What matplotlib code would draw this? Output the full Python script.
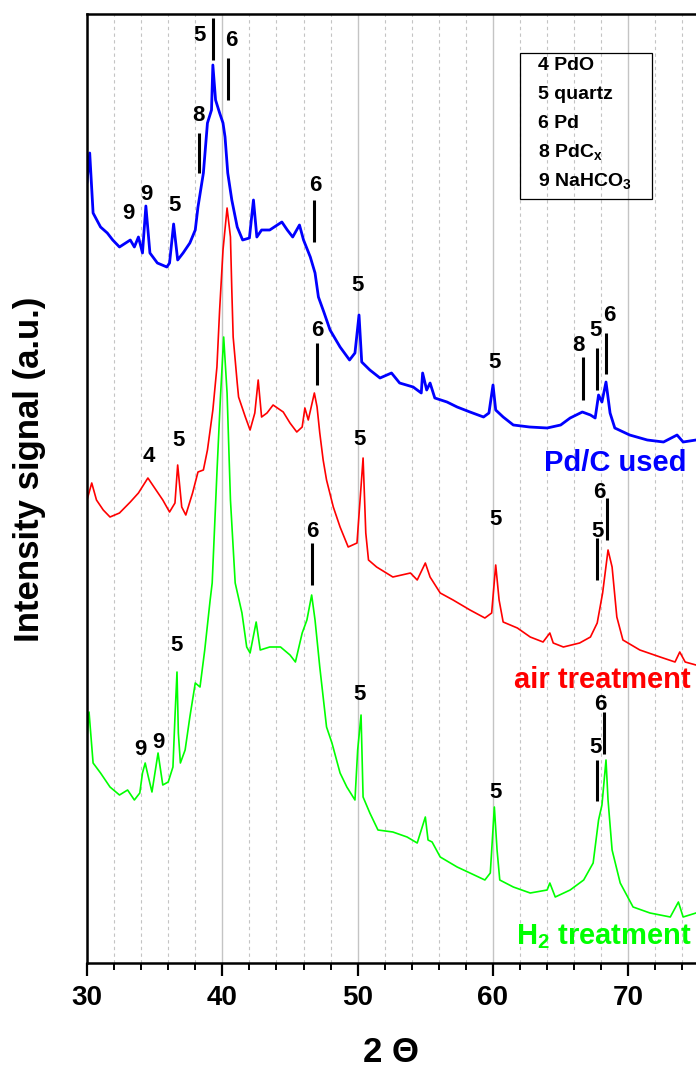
import matplotlib
matplotlib.use("Agg")
from matplotlib import pyplot as plt
from matplotlib.ticker import MultipleLocator
from matplotlib.patches import Rectangle

plt.rcParams['font.family'] = ['Liberation Sans', 'DejaVu Sans']
plt.rcParams['font.weight'] = 'bold'
plt.rcParams['mathtext.fontset'] = 'custom'
plt.rcParams['mathtext.rm'] = 'Liberation Sans:bold'
plt.rcParams['mathtext.bf'] = 'Liberation Sans:bold'
plt.rcParams['mathtext.default'] = 'bf'

# XRD traces (2theta, intensity in a.u. incl. offset)
blue_x = [30.0, 30.2, 30.45, 31.0, 31.5, 31.9, 32.4, 33.2, 33.5, 33.8,
          34.1, 34.35, 34.65, 35.2, 35.9, 36.1, 36.4, 36.7, 37.1, 37.6,
          38.0, 38.2, 38.6, 38.9, 39.2, 39.3, 39.5, 39.8, 40.05, 40.2,
          40.4, 40.7, 41.1, 41.5, 42.0, 42.3, 42.55, 42.9, 43.5, 44.4,
          44.8, 45.2, 45.7, 46.0, 46.5, 46.85, 47.1, 47.5, 47.96, 48.7,
          49.4, 49.8, 50.1, 50.3, 50.9, 51.65, 52.5, 53.1, 54.1, 54.7,
          54.8, 55.1, 55.35, 55.7, 56.6, 57.35, 58.3, 59.3, 59.7, 60.0,
          60.2, 60.75, 61.5, 62.7, 64.0, 65.0, 65.7, 66.6, 67.2, 67.55,
          67.8, 68.05, 68.35, 68.65, 69.0, 70.1, 71.4, 72.6, 73.6, 74.05,
          75.0]
blue_y = [781, 810, 750, 736, 730, 723, 716, 723, 716, 726,
          710, 757, 710, 700, 696, 700, 739, 703, 710, 720,
          733, 756, 790, 840, 853, 898, 863, 850, 840, 826,
          790, 763, 736, 723, 725, 763, 726, 733, 733, 741,
          733, 726, 738, 723, 706, 690, 666, 651, 633, 616,
          603, 610, 648, 601, 593, 585, 590, 580, 576, 570,
          590, 573, 580, 565, 561, 556, 551, 546, 550, 578,
          553, 546, 538, 536, 535, 538, 545, 551, 548, 545,
          568, 561, 581, 550, 535, 528, 523, 521, 528, 521,
          523]

red_x = [30.0, 30.35, 30.7, 31.2, 31.7, 32.4, 33.2, 33.8, 34.5, 35.2,
         35.6, 36.1, 36.5, 36.7, 37.0, 37.3, 37.8, 38.2, 38.6, 38.9,
         39.3, 39.6, 39.8, 40.05, 40.35, 40.6, 40.7, 40.8, 41.1, 41.2,
         41.7, 42.05, 42.4, 42.65, 42.9, 43.3, 43.75, 44.5, 45.0, 45.5,
         45.9, 46.1, 46.35, 46.8, 47.0, 47.2, 47.45, 47.7, 48.2, 48.7,
         49.3, 49.95, 50.4, 50.6, 50.8, 51.4, 52.6, 53.9, 54.4, 55.0,
         55.35, 56.1, 57.05, 58.3, 59.4, 59.9, 60.2, 60.45, 60.75, 61.8,
         62.75, 63.7, 64.2, 64.45, 65.2, 66.4, 67.2, 67.7, 68.1, 68.5,
         68.8, 69.15, 69.6, 70.85, 72.35, 73.45, 73.8, 74.2, 75.0]
red_y = [463, 480, 463, 453, 446, 450, 461, 470, 485, 471,
         463, 451, 460, 498, 456, 448, 470, 491, 493, 513,
         553, 596, 653, 713, 755, 726, 673, 626, 580, 566,
         546, 533, 550, 583, 546, 550, 558, 551, 540, 531,
         536, 555, 543, 570, 556, 530, 503, 483, 456, 436,
         416, 420, 505, 430, 403, 396, 386, 390, 383, 400,
         386, 370, 363, 353, 345, 350, 398, 363, 341, 335,
         326, 321, 330, 320, 316, 320, 326, 340, 370, 413,
         396, 346, 323, 313, 306, 301, 311, 301, 298]

green_x = [30.0, 30.15, 30.45, 31.0, 31.7, 32.4, 33.0, 33.5, 33.9, 34.1,
           34.3, 34.5, 34.8, 35.25, 35.6, 36.0, 36.35, 36.5, 36.65, 36.75,
           36.9, 37.25, 37.6, 38.0, 38.35, 38.7, 39.1, 39.25, 39.6, 39.85,
           40.1, 40.35, 40.6, 40.95, 41.45, 41.8, 42.05, 42.5, 42.8, 43.5,
           44.3, 45.0, 45.4, 45.9, 46.25, 46.6, 46.85, 47.2, 47.7, 48.1,
           48.7, 49.2, 49.8, 50.0, 50.25, 50.4, 50.9, 51.5, 52.6, 53.65,
           54.4, 55.0, 55.2, 55.5, 56.1, 57.35, 58.3, 59.4, 59.8, 60.1,
           60.3, 60.5, 61.5, 62.75, 64.0, 64.2, 64.6, 65.7, 66.7, 67.4,
           67.8, 68.05, 68.35, 68.5, 68.8, 69.4, 70.35, 71.6, 73.1, 73.7,
           74.05, 75.0]
green_y = [226, 251, 200, 190, 176, 168, 173, 163, 170, 190,
           200, 188, 171, 210, 178, 181, 196, 246, 291, 230,
           200, 213, 246, 280, 276, 313, 363, 380, 490, 563,
           626, 570, 463, 380, 350, 316, 310, 341, 313, 316,
           316, 308, 301, 330, 343, 368, 343, 296, 236, 220,
           190, 176, 163, 213, 248, 166, 150, 133, 131, 126,
           120, 146, 123, 121, 106, 96, 90, 83, 90, 156,
           113, 83, 76, 70, 73, 80, 66, 73, 83, 100,
           143, 158, 203, 163, 113, 80, 56, 50, 46, 61,
           46, 50]

# peak assignments: (label, 2theta, y)
blue_marks = [("9", 33.03, 752), ("9", 34.36, 771), ("5", 36.43, 760),
              ("8", 38.2, 850), ("5", 38.35, 930), ("6", 40.64, 925),
              ("6", 46.85, 780), ("5", 49.96, 680), ("5", 60.08, 603),
              ("8", 66.29, 620), ("5", 67.55, 635), ("6", 68.58, 650)]
red_marks = [("4", 34.58, 509), ("5", 36.73, 525), ("6", 47.0, 635),
             ("5", 50.1, 526), ("5", 60.15, 446), ("6", 67.84, 473),
             ("5", 67.69, 434)]
green_marks = [("9", 33.92, 216), ("9", 35.25, 223), ("5", 36.65, 320),
               ("6", 46.63, 434), ("5", 50.1, 271), ("5", 60.15, 173),
               ("6", 67.92, 261), ("5", 67.55, 218)]

# marker bars: (2theta, y_low, y_high)
bars = [(38.28, 790, 830), (39.31, 903, 945), (40.42, 863, 905),
        (46.78, 721, 763), (66.66, 563, 606), (67.69, 573, 615),
        (68.36, 589, 630),
        (47.0, 578, 620), (68.43, 423, 465), (67.69, 383, 425),
        (46.63, 378, 420), (68.21, 209, 251), (67.69, 162, 203)]

legend_lines = ["4 PdO", "5 quartz", "6 Pd", "8 PdC$_x$", "9 NaHCO$_3$"]

fig = plt.figure(figsize=(6.96, 10.68), dpi=100)
ax = fig.add_axes([87/696, 105/1068, 609/696, 949/1068])

ax.plot(blue_x, blue_y, color='#0000ff', lw=2.0)
ax.plot(red_x, red_y, color='#ff0000', lw=1.2)
ax.plot(green_x, green_y, color='#00ff00', lw=1.2)

for marks in (blue_marks, red_marks, green_marks):
    for lab, x, y in marks:
        ax.text(x, y, lab, fontsize=16, fontweight='bold',
                ha='center', va='center_baseline')
for x, y0, y1 in bars:
    ax.plot([x, x], [y0, y1], color='black', lw=2.2, solid_capstyle='butt')

ax.text(74.27, 500, "Pd/C used", color='#0000ff', fontsize=21,
        fontweight='bold', ha='right', va='center')
ax.text(74.57, 283, "air treatment", color='#ff0000', fontsize=21,
        fontweight='bold', ha='right', va='center')
ax.text(74.72, 26, "H$_2$ treatment", color='#00ff00', fontsize=21,
        fontweight='bold', ha='right', va='center')

# key box
ax.add_patch(Rectangle((62.0, 764), 9.76, 146, fill=False,
                       ec='black', lw=0.9, zorder=5))
for i, line in enumerate(legend_lines):
    ax.text(63.33, 893 - 29 * i, line, fontsize=14, fontweight='bold',
            ha='left', va='baseline', zorder=6)

ax.set_xlim(30, 75)
ax.set_ylim(0, 949)
ax.set_yticks([])
ax.xaxis.set_major_locator(MultipleLocator(10))
ax.xaxis.set_minor_locator(MultipleLocator(2))
ax.grid(which='major', axis='x', color='#c4c4c4', lw=1.0)
ax.grid(which='minor', axis='x', color='#c4c4c4', lw=0.8,
        linestyle=(0, (3, 3)))
ax.set_axisbelow(True)
ax.tick_params(axis='x', which='major', length=9, width=1.6,
               labelsize=20, pad=7)
ax.tick_params(axis='x', which='minor', length=5, width=1.4)
for lab in ax.get_xticklabels():
    lab.set_fontweight('bold')
for s in ('left', 'bottom', 'top'):
    ax.spines[s].set_linewidth(1.8)
ax.spines['right'].set_visible(False)

fig.text(30/696, 1 - 469/1068, "Intensity signal (a.u.)", rotation=90,
         fontsize=25, fontweight='bold', ha='center', va='center')
fig.text(391/696, 1 - 1052/1068, "2 Θ", fontsize=25, fontweight='bold',
         ha='center', va='center')

fig.savefig('out.png', dpi=100)
